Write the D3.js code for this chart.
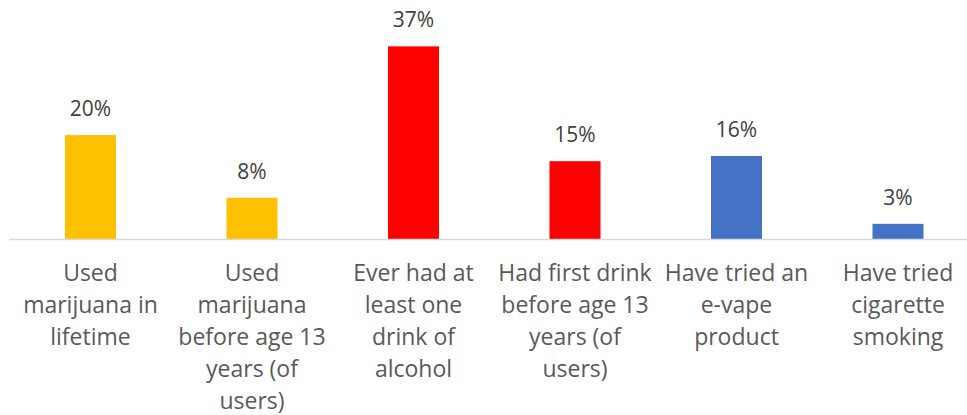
<!DOCTYPE html>
<html>
<head>
<meta charset="utf-8">
<script src="https://cdn.jsdelivr.net/npm/d3@7"></script>
<style>
  body { margin: 0; background: #fff; }
  svg { display: block; font-family: 'Open Sans', sans-serif; }
</style>
</head>
<body>
<svg id="chart"></svg>
<script>
const categories = [
  'Used\nmarijuana in\nlifetime',
  'Used\nmarijuana\nbefore age 13\nyears (of\nusers)',
  'Ever had at\nleast one\ndrink of\nalcohol',
  'Had first drink\nbefore age 13\nyears (of\nusers)',
  'Have tried an\ne-vape\nproduct',
  'Have tried\ncigarette\nsmoking'
]
const values = [0.20, 0.08, 0.37, 0.15, 0.16, 0.03]
const colors = ['#FFC000', '#FFC000', '#FF0000', '#FF0000', '#4472C4', '#4472C4']

const width = 967, height = 415
const baseY = 239.5

const svg = d3.select('#chart')
  .attr('width', width)
  .attr('height', height)

const x = d3.scaleBand()
  .domain(d3.range(categories.length))
  .range([9.75, 978.75])
  .paddingInner(0.684)
  .paddingOuter(0.342)

const y = d3.scaleLinear()
  .domain([0, 0.4])
  .range([baseY, baseY - 208.8])

svg.append('g')
  .selectAll('rect')
  .data(values)
  .join('rect')
  .attr('x', (d, i) => x(i))
  .attr('y', d => y(d))
  .attr('width', x.bandwidth())
  .attr('height', d => baseY - y(d))
  .attr('fill', (d, i) => colors[i])

svg.append('line')
  .attr('x1', 9).attr('x2', 967)
  .attr('y1', baseY).attr('y2', baseY)
  .attr('stroke', '#d9d9d9')
  .attr('stroke-width', 1.5)

svg.append('g')
  .selectAll('text')
  .data(values)
  .join('text')
  .attr('x', (d, i) => x(i) + x.bandwidth() / 2)
  .attr('y', d => y(d) - 19)
  .attr('text-anchor', 'middle')
  .attr('fill', '#404040')
  .attr('font-size', 21)
  .text(d => d3.format('.0%')(d))

const labels = svg.append('g')
  .selectAll('text')
  .data(categories)
  .join('text')
  .attr('text-anchor', 'middle')
  .attr('fill', '#595959')
  .attr('font-size', 23)

labels.each(function(d, i) {
  const cx = x(i) + x.bandwidth() / 2
  d3.select(this).selectAll('tspan')
    .data(d.split('\n'))
    .join('tspan')
    .attr('x', cx)
    .attr('y', (l, j) => 281 + j * 32)
    .text(l => l)
})
</script>
</body>
</html>
